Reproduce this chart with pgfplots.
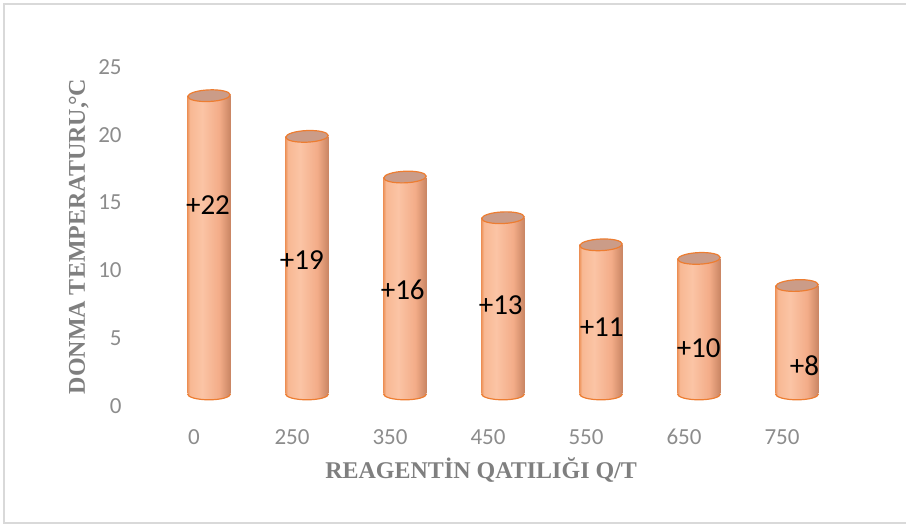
\documentclass[border=0pt]{standalone}
\usepackage{fontspec}
\setmainfont{Carlito}
\newfontfamily\titlefont{Liberation Serif}
\usepackage{pgfplots}
\pgfplotsset{compat=1.18}
\usepackage{pgfplotstable}

\definecolor{rim}{HTML}{ED7D31}
\definecolor{capfill}{HTML}{CB9C88}
\definecolor{tickgray}{HTML}{8C8C8C}
\definecolor{titlegray}{HTML}{7F7F7F}
\definecolor{framegray}{HTML}{D9D9D9}
\definecolor{cylA}{HTML}{EE955E}
\definecolor{cylB}{HTML}{FBC4A5}
\definecolor{cylC}{HTML}{F3AC88}
\definecolor{cylD}{HTML}{C98563}

% left-to-right shading of a cylinder body (the middle 50bp band covers the bar)
\pgfdeclarehorizontalshading{cylinder body}{100bp}{%
  color(0bp)=(cylA); color(25bp)=(cylA); color(28bp)=(cylB!75!cylA);
  color(42bp)=(cylB); color(62bp)=(cylC); color(75bp)=(cylD); color(100bp)=(cylD)}

% top lid of a cylinder
\pgfdeclareplotmark{cyltop}{%
  \pgfpathellipse{\pgfpointorigin}{\pgfpoint{10.6pt}{0.45pt}}{\pgfpoint{-0.1pt}{2.9pt}}%
  \pgfusepathqfillstroke}
% rounded lower end of a cylinder, shaded like the body
\pgfdeclareplotmark{cylbase}{%
  \begin{pgfscope}%
    \pgfpathmoveto{\pgfpoint{-10.75pt}{0pt}}%
    \pgfpatharc{180}{360}{10.75pt and 2.9pt}%
    \pgfpathclose
    \pgfusepath{clip}%
    \pgftransformxscale{0.4284}%
    \pgftext{\pgfuseshading{cylinder body}}%
  \end{pgfscope}%
  \pgfpathmoveto{\pgfpoint{-10.75pt}{0pt}}%
  \pgfpatharc{180}{360}{10.75pt and 2.9pt}%
  \pgfusepath{stroke}}

% idx: category position, conc: reagent concentration, val: freezing temperature,
% lx/ly: where the value label sits
\pgfplotstableread{
idx conc val lx    ly
0   0    22  0.143 14.78
1   250  19  1.10  10.77
2   350  16  2.13  8.55
3   450  13  3.13  7.45
4   550  11  4.16  5.79
5   650  10  5.15  4.24
6   750  8   6.23  2.99
}\datatable

\begin{document}
\begin{tikzpicture}
\useasboundingbox (0,0) rectangle (453pt,262.5pt);
\draw[framegray, line width=0.8pt] (454pt,260.5pt) -- (2pt,260.5pt) -- (2pt,1pt) -- (454pt,1pt);
\begin{axis}[
  at={(72.5pt,59.5pt)}, anchor=south west,
  scale only axis, width=343pt, height=169.5pt,
  xmin=-0.5, xmax=6.5, ymin=0, ymax=25,
  clip=false,
  axis line style={draw=none},
  tick style={draw=none},
  major tick length=0pt,
  xtick={0,...,6},
  xticklabels from table={\datatable}{conc},
  ytick={0,5,...,25},
  /pgf/number format/assume math mode=true,
  ticklabel style={font=\fontsize{11.5}{13}\selectfont, text=tickgray},
  xticklabel style={anchor=base, yshift=-19.5pt},
  yticklabel style={anchor=east, inner sep=0pt, xshift=-11.5pt},
  xlabel={REAGENT\.{I}N QATILIĞI Q/T},
  ylabel={DONMA TEMPERATURU,\kern-0.12em°C},
  every axis x label/.style={at={(axis description cs:0.49,0)}, anchor=base, yshift=-36.5pt,
    font=\titlefont\bfseries\fontsize{12}{14}\selectfont, text=titlegray},
  every axis y label/.style={at={(axis description cs:-0.0875,0.5)}, rotate=90, anchor=base,
    font=\titlefont\bfseries\fontsize{12}{14}\selectfont, text=titlegray},
]
% cylinder bodies, one plot per bar so each gets its own shading
\pgfplotsinvokeforeach{0,...,6}{%
  \addplot[ybar, bar width=21.5pt, bar shift=0pt, draw=none, shading=cylinder body,
    restrict x to domain=#1:#1, xshift=7.5pt, yshift=6pt]
    table[x=idx, y=val]{\datatable};
}
% rounded bottoms
\addplot[only marks, mark=cylbase, mark options={draw=rim, line width=0.6pt},
  xshift=7.5pt, yshift=6pt] table[x=idx, y expr=0]{\datatable};
% lids
\addplot[only marks, mark=cyltop, mark options={fill=capfill, draw=rim, line width=0.6pt},
  xshift=7.5pt, yshift=6pt] table[x=idx, y=val]{\datatable};
% value labels
\addplot[draw=none, mark=none, point meta=\thisrow{val},
  nodes near coords={+\pgfmathprintnumber{\pgfplotspointmeta}},
  every node near coord/.append style={anchor=center, inner sep=0pt, text=black,
    font=\fontsize{14.5}{16}\selectfont}]
  table[x=lx, y=ly]{\datatable};
\end{axis}
\end{tikzpicture}
\end{document}
